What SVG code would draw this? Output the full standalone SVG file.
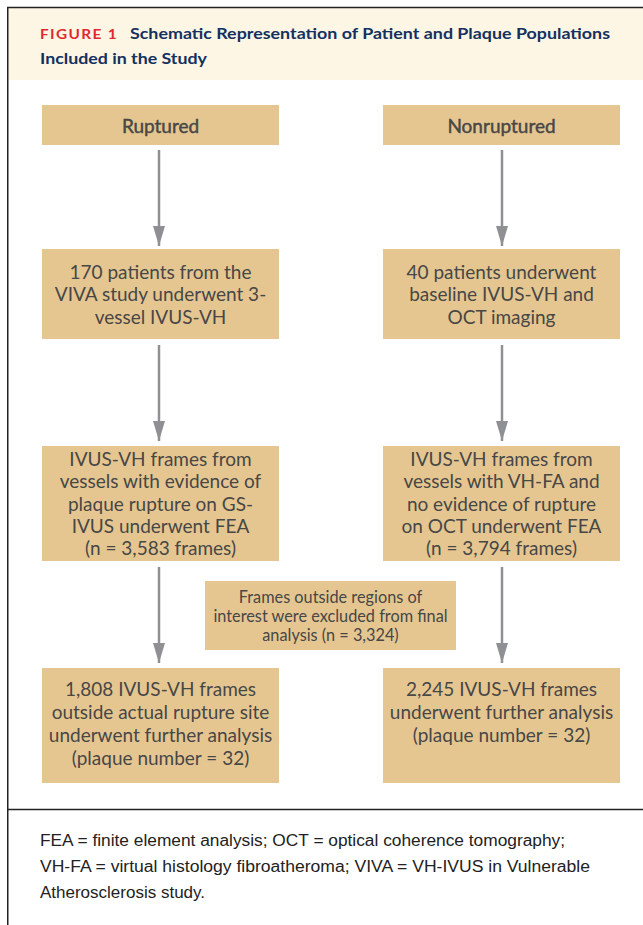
<svg xmlns="http://www.w3.org/2000/svg" width="643" height="925" viewBox="0 0 643 925">
<style>
.box{fill:#e6c690;}
.t{font-family:Lato,"Liberation Sans",sans-serif;font-size:19px;fill:#474747;text-anchor:middle;}
.ts{font-family:Lato,"Liberation Sans",sans-serif;font-size:16.3px;fill:#474747;text-anchor:middle;}
.m{stroke:#474747;stroke-width:0.45;}
.b{font-family:Lato,"Liberation Sans",sans-serif;font-weight:bold;}
.conn line{stroke:#8f9094;stroke-width:2.5;}
.foot{font-family:"Liberation Sans",sans-serif;font-size:16px;fill:#222;}
</style>
<defs>
<marker id="ah" markerUnits="userSpaceOnUse" markerWidth="20" markerHeight="12" refX="20" refY="6" orient="auto" viewBox="0 0 20 12">
<path d="M0,0 L20,6 L0,12 Z" fill="#8f9094"/>
</marker>
</defs>
<rect x="0" y="0" width="643" height="925" fill="#fff"/>
<g id="header">
<rect x="8" y="8" width="635" height="72" fill="#fdf6e5"/>
<line x1="7" y1="7.5" x2="643" y2="7.5" stroke="#222" stroke-width="1.5"/>
<line x1="7.75" y1="7" x2="7.75" y2="925" stroke="#222" stroke-width="1.5"/>
<line x1="7" y1="809.5" x2="643" y2="809.5" stroke="#222" stroke-width="1.5"/>
<text x="40" y="39" class="b" font-size="13.5" fill="#e0282f" letter-spacing="1.2" textLength="78" lengthAdjust="spacingAndGlyphs">FIGURE 1</text>
<text x="130" y="39" class="b" font-size="16" fill="#14305f" textLength="480" lengthAdjust="spacingAndGlyphs">Schematic Representation of Patient and Plaque Populations</text>
<text x="40" y="64" class="b" font-size="16" fill="#14305f" textLength="167" lengthAdjust="spacingAndGlyphs">Included in the Study</text>
</g>
<g id="connectors" class="conn">
<line x1="159" y1="150" x2="159" y2="246" marker-end="url(#ah)"/>
<line x1="502" y1="150" x2="502" y2="246" marker-end="url(#ah)"/>
<line x1="159" y1="345" x2="159" y2="441" marker-end="url(#ah)"/>
<line x1="502" y1="345" x2="502" y2="441" marker-end="url(#ah)"/>
<line x1="159" y1="567" x2="159" y2="663" marker-end="url(#ah)"/>
<line x1="502" y1="567" x2="502" y2="663" marker-end="url(#ah)"/>
</g>
<g id="ruptured">
<rect class="box" x="42" y="105" width="237" height="40"/>
<text class="t m" x="160.5" y="133">Ruptured</text>
</g>
<g id="nonruptured">
<rect class="box" x="383" y="105" width="237" height="40"/>
<text class="t m" x="501.5" y="133">Nonruptured</text>
</g>
<g id="patients-viva">
<rect class="box" x="42" y="249" width="237" height="90"/>
<text class="t" x="160.5" y="278.5">170 patients from the</text>
<text class="t" x="160.5" y="301">VIVA study underwent 3-</text>
<text class="t" x="160.5" y="324">vessel IVUS-VH</text>
</g>
<g id="patients-oct">
<rect class="box" x="383" y="249" width="237" height="90"/>
<text class="t" x="501.5" y="278.5">40 patients underwent</text>
<text class="t" x="501.5" y="301">baseline IVUS-VH and</text>
<text class="t" x="501.5" y="324">OCT imaging</text>
</g>
<g id="frames-ruptured">
<rect class="box" x="42" y="446" width="237" height="115"/>
<text class="t" x="160.5" y="465.5">IVUS-VH frames from</text>
<text class="t" x="160.5" y="488">vessels with evidence of</text>
<text class="t" x="160.5" y="510.5">plaque rupture on GS-</text>
<text class="t" x="160.5" y="533">IVUS underwent FEA</text>
<text class="t" x="160.5" y="555">(n = 3,583 frames)</text>
</g>
<g id="frames-nonruptured">
<rect class="box" x="383" y="446" width="237" height="115"/>
<text class="t" x="501.5" y="465.5">IVUS-VH frames from</text>
<text class="t" x="501.5" y="488">vessels with VH-FA and</text>
<text class="t" x="501.5" y="510.5">no evidence of rupture</text>
<text class="t" x="501.5" y="533">on OCT underwent FEA</text>
<text class="t" x="501.5" y="555">(n = 3,794 frames)</text>
</g>
<g id="excluded">
<rect class="box" x="205" y="581" width="251" height="69"/>
<text class="ts" x="330.5" y="602.5">Frames outside regions of</text>
<text class="ts" x="330.5" y="621.5">interest were excluded from final</text>
<text class="ts" x="330.5" y="640.5">analysis (n = 3,324)</text>
</g>
<g id="final-ruptured">
<rect class="box" x="42" y="668" width="237" height="115"/>
<text class="t" x="160.5" y="695.5">1,808 IVUS-VH frames</text>
<text class="t" x="160.5" y="719">outside actual rupture site</text>
<text class="t" x="160.5" y="741.5">underwent further analysis</text>
<text class="t" x="160.5" y="764.5">(plaque number = 32)</text>
</g>
<g id="final-nonruptured">
<rect class="box" x="383" y="668" width="237" height="115"/>
<text class="t" x="501.5" y="695.5">2,245 IVUS-VH frames</text>
<text class="t" x="501.5" y="719">underwent further analysis</text>
<text class="t" x="501.5" y="741.5">(plaque number = 32)</text>
</g>
<g id="footnote">
<text class="foot" x="40" y="846" textLength="525" lengthAdjust="spacingAndGlyphs">FEA = finite element analysis; OCT = optical coherence tomography;</text>
<text class="foot" x="40" y="872" textLength="550" lengthAdjust="spacingAndGlyphs">VH-FA = virtual histology fibroatheroma; VIVA = VH-IVUS in Vulnerable</text>
<text class="foot" x="40" y="898" textLength="165" lengthAdjust="spacingAndGlyphs">Atherosclerosis study.</text>
</g>
</svg>
